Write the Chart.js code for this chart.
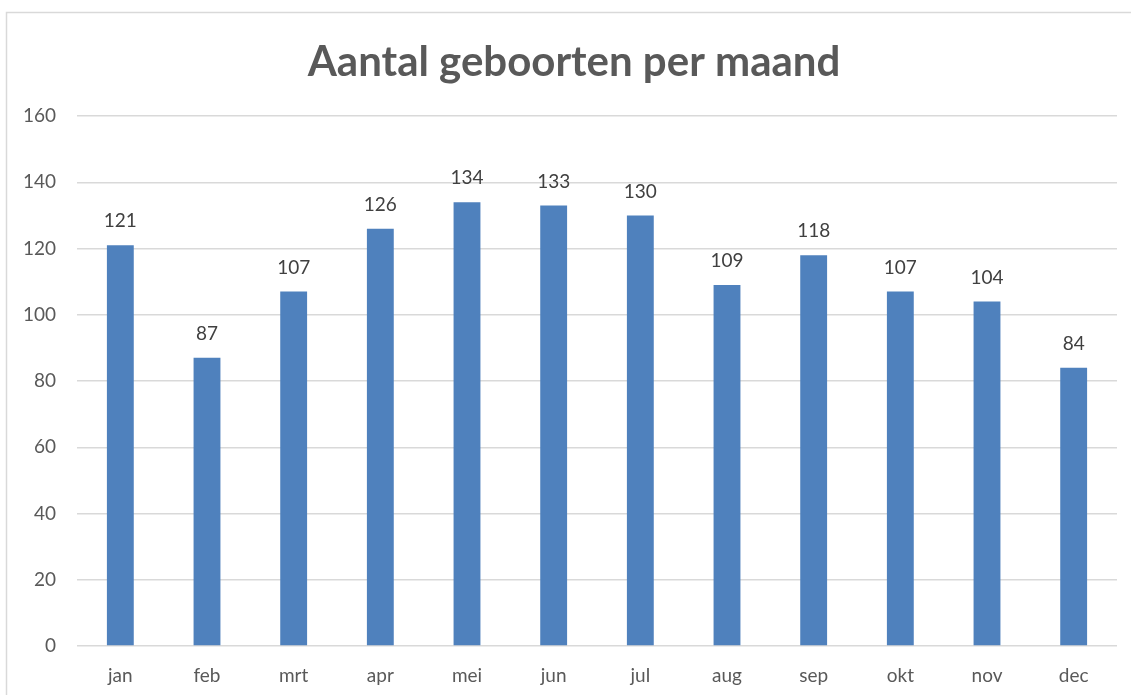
<!DOCTYPE html>
<html>
<head>
<meta charset="utf-8">
<script src="https://cdn.jsdelivr.net/npm/chart.js@4/dist/chart.umd.min.js"></script>
<style>
  html, body { margin: 0; padding: 0; background: #ffffff; }
  #wrap { position: absolute; left: 0; top: 0; width: 1131px; height: 695px; }
</style>
</head>
<body>
<div id="wrap"><canvas id="c" width="1131" height="695"></canvas></div>
<script>
const chartTitle = "Aantal geboorten per maand";
const categories = ["jan", "feb", "mrt", "apr", "mei", "jun", "jul", "aug", "sep", "okt", "nov", "dec"];
const births = [121, 87, 107, 126, 134, 133, 130, 109, 118, 107, 104, 84];
const yTicks = [0, 20, 40, 60, 80, 100, 120, 140, 160];

const FONT = "Lato, 'Open Sans', sans-serif";

const frame = {
  id: 'frame',
  beforeDraw(chart) {
    const ctx = chart.ctx;
    ctx.save();
    ctx.fillStyle = '#ffffff';
    ctx.fillRect(0, 0, chart.width, chart.height);
    ctx.strokeStyle = '#d9d9d9';
    ctx.lineWidth = 1.5;
    ctx.beginPath();
    ctx.moveTo(6.5, chart.height);
    ctx.lineTo(6.5, 12.5);
    ctx.lineTo(chart.width, 12.5);
    ctx.stroke();
    // title, centred over the chart frame
    ctx.font = "bold 42px " + FONT;
    ctx.fillStyle = '#595959';
    ctx.textAlign = 'center';
    ctx.textBaseline = 'middle';
    ctx.fillText(chartTitle, 574, 62);
    ctx.restore();
  }
};

const valueLabels = {
  id: 'valueLabels',
  afterDatasetsDraw(chart) {
    const ctx = chart.ctx;
    const meta = chart.getDatasetMeta(0);
    ctx.save();
    ctx.font = "19px " + FONT;
    ctx.fillStyle = '#404040';
    ctx.textAlign = 'center';
    ctx.textBaseline = 'middle';
    meta.data.forEach((bar, i) => {
      ctx.fillText(String(chart.data.datasets[0].data[i]), bar.x, bar.y - 24);
    });
    ctx.restore();
  }
};

new Chart(document.getElementById('c'), {
  type: 'bar',
  data: {
    labels: categories,
    datasets: [{
      data: births,
      backgroundColor: '#4f81bd',
      borderWidth: 0,
      barPercentage: 1,
      categoryPercentage: 0.31
    }]
  },
  options: {
    responsive: false,
    animation: false,
    devicePixelRatio: 1,
    layout: { padding: { left: 0, right: 14, top: 116, bottom: 0 } },
    plugins: {
      legend: { display: false },
      tooltip: { enabled: false },
      title: { display: false }
    },
    scales: {
      x: {
        grid: { display: false, drawTicks: false },
        border: { display: false },
        ticks: { color: '#595959', font: { family: FONT, size: 19 }, padding: 18, maxRotation: 0 },
        afterFit(scale) { scale.height = 49; }
      },
      y: {
        min: 0,
        max: 160,
        afterBuildTicks(scale) { scale.ticks = yTicks.map(v => ({ value: v })); },
        grid: { color: '#d9d9d9', lineWidth: 1.5, drawTicks: false },
        border: { display: false },
        ticks: { color: '#595959', font: { family: FONT, size: 19 }, padding: 21 },
        afterFit(scale) { scale.width = 77; }
      }
    }
  },
  plugins: [frame, valueLabels]
});
</script>
</body>
</html>
